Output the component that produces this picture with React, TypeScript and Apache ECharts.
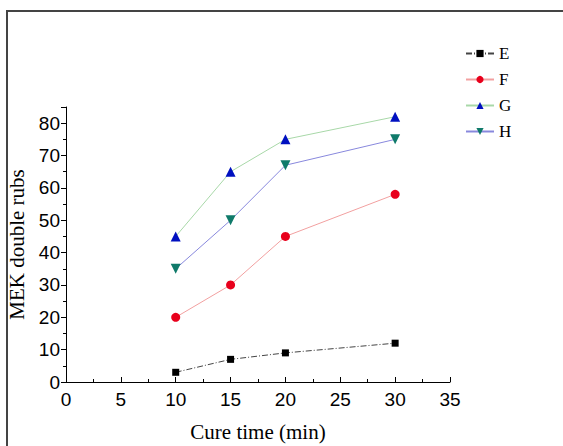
import React, { useEffect, useRef } from "react";
import * as echarts from "echarts";

const cureTimes = [10, 15, 20, 30];
const seriesE = [3, 7, 9, 12];
const seriesF = [20, 30, 45, 58];
const seriesG = [45, 65, 75, 82];
const seriesH = [35, 50, 67, 75];
const seriesNames = ["E", "F", "G", "H"];

function pairs(vals: number[]) {
  return cureTimes.map((t, i) => [t, vals[i]]);
}

export default function App() {
  const ref = useRef<HTMLDivElement>(null);
  useEffect(() => {
    if (!ref.current) return;
    const chart = echarts.init(ref.current, undefined, { renderer: "svg" });
    const axisLabelFont = {
      fontFamily: "Liberation Sans, Arial, sans-serif",
      fontSize: 19,
      color: "#000",
    };
    const nameFont = {
      fontFamily: "Liberation Serif, Times New Roman, serif",
      fontSize: 21,
      lineHeight: 21,
      color: "#000",
    };
    chart.setOption({
      animation: false,
      backgroundColor: "#fff",
      graphic: [
        {
          type: "rect",
          shape: { x: 7, y: 11, width: 700, height: 600 },
          style: { fill: "none", stroke: "#444", lineWidth: 2 },
          silent: true,
        },
      ],
      grid: { left: 66, right: 113, top: 107, bottom: 64, outerBoundsMode: "none", containLabel: false },
      legend: {
        orient: "vertical",
        left: 460,
        top: 40,
        itemWidth: 28,
        itemHeight: 9,
        itemGap: 9,
        data: seriesNames,
        textStyle: {
          fontFamily: "Liberation Serif, Times New Roman, serif",
          fontSize: 17,
          color: "#000",
        },
      },
      xAxis: {
        type: "value",
        min: 0,
        max: 35,
        interval: 5,
        name: "Cure time (min)",
        nameLocation: "middle",
        nameGap: 39,
        nameTextStyle: nameFont,
        splitLine: { show: false },
        axisLine: { lineStyle: { color: "#000", width: 1 } },
        axisTick: { inside: true, length: 5, lineStyle: { color: "#000" } },
        minorTick: { show: true, splitNumber: 2, length: 3, lineStyle: { color: "#000" } },
        axisLabel: { ...axisLabelFont, margin: 8 },
      },
      yAxis: {
        type: "value",
        min: 0,
        max: 85,
        interval: 10,
        name: "MEK double rubs",
        nameLocation: "middle",
        nameGap: 35,
        nameTextStyle: nameFont,
        splitLine: { show: false },
        axisLine: { show: true, lineStyle: { color: "#000", width: 1 } },
        axisTick: { show: true, inside: false, length: 5, lineStyle: { color: "#000" } },
        minorTick: { show: true, splitNumber: 2, length: 3, lineStyle: { color: "#000" } },
        axisLabel: { ...axisLabelFont, margin: 6, showMaxLabel: false },
      },
      series: [
        {
          name: "E",
          type: "line",
          data: pairs(seriesE),
          symbol: "rect",
          symbolSize: 7,
          itemStyle: { color: "#000" },
          lineStyle: { color: "#444", width: 1, type: [6, 2, 1, 2] },
        },
        {
          name: "F",
          type: "line",
          data: pairs(seriesF),
          symbol: "circle",
          symbolSize: 9,
          itemStyle: { color: "#e8001c" },
          lineStyle: { color: "#f2a0a0", width: 1 },
        },
        {
          name: "G",
          type: "line",
          data: pairs(seriesG),
          symbol: "triangle",
          symbolSize: 10,
          itemStyle: { color: "#0010c0" },
          lineStyle: { color: "#a8d8a8", width: 1 },
        },
        {
          name: "H",
          type: "line",
          data: pairs(seriesH),
          symbol: "triangle",
          symbolRotate: 180,
          symbolSize: 10,
          itemStyle: { color: "#0f7a6a" },
          lineStyle: { color: "#8888dd", width: 1 },
        },
      ],
    });
    return () => chart.dispose();
  }, []);
  return (
    <div
      ref={ref}
      style={{ position: "fixed", left: 0, top: 0, width: 563, height: 446 }}
    />
  );
}
